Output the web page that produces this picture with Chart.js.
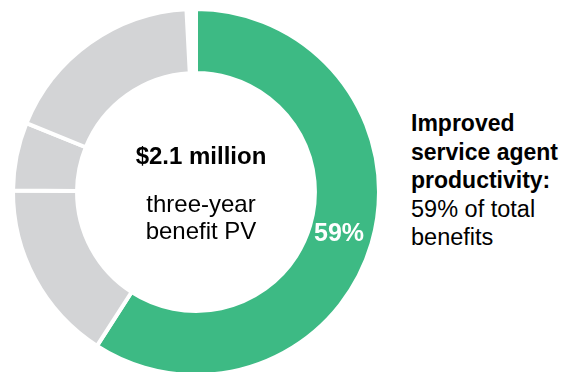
<!DOCTYPE html>
<html>
<head>
<meta charset="utf-8">
<script src="https://cdn.jsdelivr.net/npm/chart.js@4"></script>
<style>
  html, body { margin: 0; padding: 0; background: #fff; width: 574px; height: 372px; overflow: hidden; }
  body { position: relative; font-family: "Liberation Sans", Arial, sans-serif; color: #000; }
  #chart-box { position: absolute; left: 0; top: 0; width: 392px; height: 384px; }
  .txt { position: absolute; white-space: nowrap; font-size: 24px; line-height: 26px; }
  .mid { left: 101px; width: 200px; text-align: center; }
  #big { top: 143px; font-weight: bold; }
  #sub { top: 190px; line-height: 27px; }
  #pct { left: 314px; top: 219px; color: #fff; font-weight: bold; font-size: 25px; }
  #side { left: 411px; top: 109px; font-size: 23.5px; line-height: 28.5px; }
  #side b { font-weight: bold; font-size: 23px; }
</style>
</head>
<body>
<div id="chart-box"><canvas id="donut"></canvas></div>
<div class="txt mid" id="big">$2.1 million</div>
<div class="txt mid" id="sub">three-year<br>benefit PV</div>
<div class="txt" id="pct">59%</div>
<div class="txt" id="side"><b>Improved<br>service agent<br>productivity:</b><br>59% of total<br>benefits</div>

<script>
"use-strict";

// Chart data

let benefitLabels = ["Improved service agent productivity", "Benefit 2", "Benefit 3", "Benefit 4"];
let benefitShares = [59, 16, 6, 18];
let sliceColors = ["#3dba84", "#d3d4d6", "#d3d4d6", "#d3d4d6"];

let ctx = document.getElementById("donut").getContext("2d");

let donutChart = new Chart(ctx, {
  type: "doughnut",
  data: {
    labels: benefitLabels,
    datasets: [
      {
        data: benefitShares,
        backgroundColor: sliceColors,
        borderColor: "#ffffff",
        borderWidth: 4,
        hoverOffset: 0,
      },
    ],
  },
  options: {
    responsive: true,
    maintainAspectRatio: false,
    animation: false,
    radius: 183,
    cutout: "65%",
    rotation: 0,
    circumference: 357,
    layout: { padding: 0 },
    plugins: {
      legend: { display: false },
      tooltip: { enabled: false },
    },
  },
});
</script>
</body>
</html>
